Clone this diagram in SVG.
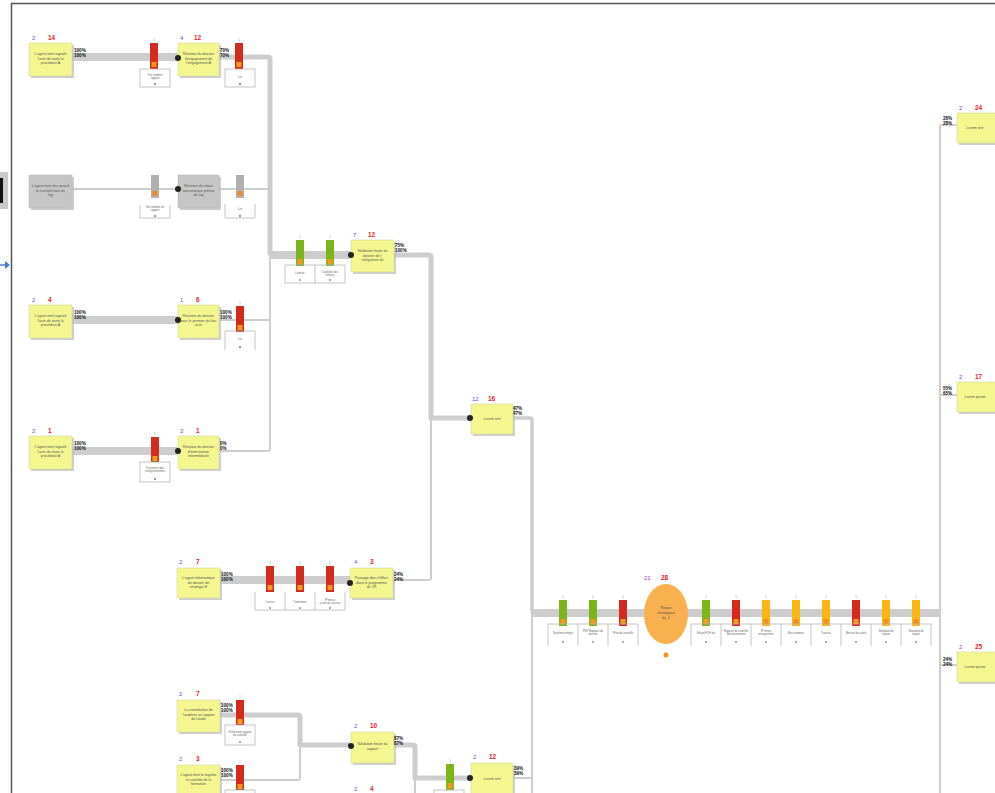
<svg xmlns="http://www.w3.org/2000/svg" width="995" height="793" viewBox="0 0 995 793">
<style>
.nd{fill:#f4f68f;stroke:#d6d6a0;stroke-width:0.6}
.nd-g{fill:#c6c6c6;stroke:#b8b8b8;stroke-width:0.6}
.sh{fill:#b9b9b9;opacity:0.7}
.nt{font-family:"Liberation Sans",Arial,sans-serif;font-size:3.6px;fill:#555;text-anchor:middle}
.np{font-family:"Liberation Sans",Arial,sans-serif;font-size:6px;fill:#8a3fd1}
.nr{font-family:"Liberation Sans",Arial,sans-serif;font-size:6.5px;fill:#e8202a;font-weight:bold}
.pc{font-family:"Liberation Sans",Arial,sans-serif;font-size:4.6px;fill:#111;font-weight:bold}
.bx{fill:#fff;stroke:#b5b5b5;stroke-width:0.8}
.bl{fill:none;stroke:#b5b5b5;stroke-width:0.8}
.bt{font-family:"Liberation Sans",Arial,sans-serif;font-size:2.8px;fill:#666;text-anchor:middle}
.c1{fill:none;stroke:#cdcdcd;stroke-width:8;stroke-linejoin:round}
.c2{fill:none;stroke:#cdcdcd;stroke-width:5;stroke-linejoin:round}
.c4{fill:none;stroke:#cdcdcd;stroke-width:3.5;stroke-linejoin:round}
.c3{fill:none;stroke:#cdcdcd;stroke-width:2;stroke-linejoin:round}
.dot{fill:#222}
.gn{font-family:"Liberation Sans",Arial,sans-serif;font-size:3.5px;fill:#999;text-anchor:middle}
</style>
<defs>
<g id="gR"><rect x="0" y="0" width="8" height="26" fill="#d42b1e"/><rect x="1.5" y="19" width="5" height="5" fill="#f49a20"/><text class="gn" x="4" y="-2">1</text></g>
<g id="gG"><rect x="0" y="0" width="8" height="26" fill="#7cb51b"/><rect x="1.5" y="19" width="5" height="5" fill="#f49a20"/><text class="gn" x="4" y="-2">1</text></g>
<g id="gO"><rect x="0" y="0" width="8" height="26" fill="#fdb515"/><rect x="1.5" y="19" width="5" height="5" fill="#f48a20"/><text class="gn" x="4" y="-2">1</text></g>
<g id="gY"><rect x="0" y="0" width="8" height="23" fill="#b0b0b0"/><rect x="1.5" y="16" width="5" height="5" fill="#f08a30"/></g>
</defs>
<rect width="995" height="793" fill="#fff"/>
<!-- frame -->
<path d="M11.5 793 V3.5 H995" fill="none" stroke="#555" stroke-width="1.5"/>
<rect x="0" y="172" width="8" height="37" fill="#c9c9c9"/>
<rect x="0" y="178" width="3" height="25" fill="#111"/>
<path d="M0 265 H6" stroke="#4a7cc7" stroke-width="1.5"/>
<path d="M5 261 L10 265 L5 269 Z" fill="#4a7cc7"/>

<g id="connectors">
<path class="c1" d="M72 57 H178"/>
<path class="c2" d="M218 57 H268 Q270 57 270 59 V255"/>
<path class="c3" d="M72 189 H270"/>
<path class="c1" d="M72 320 H178"/>
<path class="c3" d="M218 320 H270 M270 255 V449 Q270 451 268 451 H218"/>
<path class="c1" d="M72 451 H178"/>
<path class="c1" d="M270 255 H350"/>
<path class="c2" d="M393 255 H429 Q431 255 431 257 V418 H470"/>
<path class="c3" d="M393 580 H429 Q431 580 431 578 V418"/>
<path class="c1" d="M220 580 H350"/>
<path class="c4" d="M512 418 H530 Q532 418 532 420 V613"/>
<path class="c3" d="M532 613 V793"/>
<path class="c1" d="M532 613 H940"/>
<path class="c3" d="M940 793 V127 Q940 125 942 125 H957 M940 395 H957 M940 665 H957"/>
<path class="c2" d="M220 715 H298 Q300 715 300 717 V745 H350"/>
<path class="c3" d="M220 780 H298 Q300 780 300 778 V745"/>
<path class="c2" d="M393 745 H413 Q415 745 415 747 V778 H470"/>
<path class="c3" d="M415 778 V793 M512 778 H532"/>
</g>

<!-- gauges and boxes -->
<g id="gauges">
<use href="#gR" x="150" y="43"/><rect class="bx" x="140" y="69" width="30" height="18"/><text class="bt" x="155" y="76">Ton number</text><text class="bt" x="155" y="79">rapport</text><circle cx="155" cy="84" r="1.2" fill="#999"/>
<use href="#gR" x="235" y="43"/><rect class="bx" x="225" y="69" width="30" height="18"/><text class="bt" x="240" y="78">Lot</text><circle cx="240" cy="84" r="1.2" fill="#999"/>
<use href="#gY" x="151" y="175"/><path class="bl" d="M140 205 V218 H170 V205"/><text class="bt" x="155" y="208">Ton number de</text><text class="bt" x="155" y="211">rapport</text><circle cx="155" cy="216" r="1.2" fill="#999"/>
<use href="#gY" x="236" y="175"/><path class="bl" d="M225 204 V218 H255 V204"/><text class="bt" x="240" y="210">Lot</text><circle cx="240" cy="216" r="1.2" fill="#999"/>
<use href="#gR" x="236" y="306"/><path class="bl" d="M225 350 V331 H255 V350"/><text class="bt" x="240" y="340">Lot</text><circle cx="240" cy="347" r="1.2" fill="#999"/>
<use href="#gR" x="151" y="437"/><rect class="bx" x="140" y="462" width="30" height="20"/><text class="bt" x="155" y="469">Traitement des</text><text class="bt" x="155" y="472">enregistrements</text><circle cx="155" cy="479" r="1.2" fill="#999"/>
<use href="#gG" x="296" y="240"/><use href="#gG" x="326" y="240"/>
<path class="bl" d="M285 265 V283 H345 V265 H285 M315 265 V283"/><text class="bt" x="300" y="274">Lecture</text><text class="bt" x="330" y="273">Contrôle des</text><text class="bt" x="330" y="276">fichiers</text><circle cx="300" cy="280" r="1.1" fill="#999"/><circle cx="330" cy="280" r="1.1" fill="#999"/>
<use href="#gR" x="266" y="566"/><use href="#gR" x="296" y="566"/><use href="#gR" x="326" y="566"/>
<path class="bl" d="M255 592 V610 H345 V592 M285 592 V610 M315 592 V610"/><text class="bt" x="270" y="603">Lecture</text><text class="bt" x="300" y="603">Traitement</text><text class="bt" x="330" y="601">IP mises</text><text class="bt" x="330" y="604">à jour du serveur</text><circle cx="270" cy="608" r="1.1" fill="#999"/><circle cx="300" cy="608" r="1.1" fill="#999"/><circle cx="330" cy="608" r="1.1" fill="#999"/>
<use href="#gR" x="236" y="700"/><rect class="bx" x="225" y="725" width="30" height="20"/><text class="bt" x="240" y="733">Vérification rapport</text><text class="bt" x="240" y="736">de contrôle</text><circle cx="240" cy="742" r="1.1" fill="#999"/>
<use href="#gR" x="236" y="765"/><rect class="bx" x="225" y="790" width="30" height="10"/>
<use href="#gG" x="446" y="764"/><rect class="bx" x="434" y="790" width="30" height="10"/>
<!-- main line gauges -->
<use href="#gG" x="559" y="600"/><use href="#gG" x="589" y="600"/><use href="#gR" x="619" y="600"/>
<path class="bl" d="M548 624 H638 M548 624 V646 M578 624 V646 M608 624 V646 M638 624 V646"/>
<text class="bt" x="563" y="634">Système intégré</text><text class="bt" x="593" y="632">PDF Rapport de</text><text class="bt" x="593" y="635">dossier</text><text class="bt" x="623" y="634">Plan de contrôle</text>
<circle cx="563" cy="642" r="1.1" fill="#999"/><circle cx="593" cy="642" r="1.1" fill="#999"/><circle cx="623" cy="642" r="1.1" fill="#999"/>
<use href="#gG" x="702" y="600"/><use href="#gR" x="732" y="600"/><use href="#gO" x="762" y="600"/><use href="#gO" x="792" y="600"/><use href="#gO" x="822" y="600"/><use href="#gR" x="852" y="600"/><use href="#gO" x="882" y="600"/><use href="#gO" x="912" y="600"/>
<path class="bl" d="M691 624 H931 M691 624 V646 M721 624 V646 M751 624 V646 M781 624 V646 M811 624 V646 M841 624 V646 M871 624 V646 M901 624 V646 M931 624 V646"/>
<text class="bt" x="706" y="634">Extrait PDF du</text>
<text class="bt" x="736" y="632">Rapport de contrôle</text><text class="bt" x="736" y="635">fonctionnement</text>
<text class="bt" x="766" y="632">IP mises</text><text class="bt" x="766" y="635">enregistrées</text>
<text class="bt" x="796" y="634">Recrutement</text>
<text class="bt" x="826" y="634">Travaux</text>
<text class="bt" x="856" y="634">Mesure de stock</text>
<text class="bt" x="886" y="632">Standard de</text><text class="bt" x="886" y="635">région</text>
<text class="bt" x="916" y="632">Standard de</text><text class="bt" x="916" y="635">région</text>
<circle cx="706" cy="642" r="1.1" fill="#999"/><circle cx="736" cy="642" r="1.1" fill="#999"/><circle cx="766" cy="642" r="1.1" fill="#999"/><circle cx="796" cy="642" r="1.1" fill="#999"/><circle cx="826" cy="642" r="1.1" fill="#999"/><circle cx="856" cy="642" r="1.1" fill="#999"/><circle cx="886" cy="642" r="1.1" fill="#999"/><circle cx="916" cy="642" r="1.1" fill="#999"/>
</g>

<!-- nodes -->
<g id="n1"><rect class="sh" x="31" y="45" width="43" height="33"/><rect class="nd" x="29" y="43" width="43" height="33"/><text class="np" x="32" y="40">2</text><text class="nr" x="48" y="40">14</text>
<text class="nt" x="50.5" y="55">L'agent tient signalé</text><text class="nt" x="50.5" y="59.5">l'acte de toute la</text><text class="nt" x="50.5" y="64">procédure A</text><text class="pc" x="74" y="52">100%</text><text class="pc" x="74" y="57">100%</text></g>
<g id="n2"><rect class="sh" x="180" y="45" width="41" height="33"/><rect class="nd" x="178" y="43" width="41" height="33"/><circle class="dot" cx="178" cy="58" r="3"/><text class="np" x="180" y="40">4</text><text class="nr" x="194" y="40">12</text>
<text class="nt" x="198.5" y="55">Révision du dossier</text><text class="nt" x="198.5" y="59.5">d'engagement de</text><text class="nt" x="198.5" y="64">l'engagement A</text><text class="pc" x="220" y="52">70%</text><text class="pc" x="220" y="57">70%</text></g>
<g id="n3"><rect class="sh" x="31" y="177" width="43" height="33"/><rect class="nd-g" x="29" y="175" width="43" height="33"/>
<text class="nt" x="50.5" y="187">L'agent tient des quand</text><text class="nt" x="50.5" y="191.5">la transmission du</text><text class="nt" x="50.5" y="196">log</text></g>
<g id="n4"><rect class="sh" x="180" y="177" width="41" height="33"/><rect class="nd-g" x="178" y="175" width="41" height="33"/><circle class="dot" cx="178" cy="189" r="3"/>
<text class="nt" x="198.5" y="187">Révision du retour</text><text class="nt" x="198.5" y="191.5">transmission prévue</text><text class="nt" x="198.5" y="196">de log</text></g>
<g id="n5"><rect class="sh" x="31" y="307" width="43" height="33"/><rect class="nd" x="29" y="305" width="43" height="33"/><text class="np" x="32" y="302">2</text><text class="nr" x="48" y="302">4</text>
<text class="nt" x="50.5" y="317">L'agent tient signalé</text><text class="nt" x="50.5" y="321.5">l'acte de toute la</text><text class="nt" x="50.5" y="326">procédure A</text><text class="pc" x="74" y="314">100%</text><text class="pc" x="74" y="319">100%</text></g>
<g id="n6"><rect class="sh" x="180" y="307" width="41" height="33"/><rect class="nd" x="178" y="305" width="41" height="33"/><circle class="dot" cx="178" cy="320" r="3"/><text class="np" x="180" y="302">1</text><text class="nr" x="196" y="302">6</text>
<text class="nt" x="198.5" y="317">Révision du dossier</text><text class="nt" x="198.5" y="321.5">pour le premier du lieu</text><text class="nt" x="198.5" y="326">acte</text><text class="pc" x="220" y="314">100%</text><text class="pc" x="220" y="319">100%</text></g>
<g id="n7"><rect class="sh" x="31" y="438" width="43" height="33"/><rect class="nd" x="29" y="436" width="43" height="33"/><text class="np" x="32" y="433">2</text><text class="nr" x="48" y="433">1</text>
<text class="nt" x="50.5" y="448">L'agent tient signalé</text><text class="nt" x="50.5" y="452.5">l'acte de toute la</text><text class="nt" x="50.5" y="457">procédure A</text><text class="pc" x="74" y="445">100%</text><text class="pc" x="74" y="450">100%</text></g>
<g id="n8"><rect class="sh" x="180" y="438" width="41" height="33"/><rect class="nd" x="178" y="436" width="41" height="33"/><circle class="dot" cx="178" cy="451" r="3"/><text class="np" x="180" y="433">2</text><text class="nr" x="196" y="433">1</text>
<text class="nt" x="198.5" y="448">Révision du dossier</text><text class="nt" x="198.5" y="452.5">d'intervention</text><text class="nt" x="198.5" y="457">intermédiaire</text><text class="pc" x="220" y="445">0%</text><text class="pc" x="220" y="450">0%</text></g>
<g id="n9"><rect class="sh" x="353" y="242" width="43" height="32"/><rect class="nd" x="351" y="240" width="43" height="32"/><circle class="dot" cx="351" cy="255" r="3"/><text class="np" x="353" y="237">7</text><text class="nr" x="368" y="237">12</text>
<text class="nt" x="372.5" y="252">Validation finale du</text><text class="nt" x="372.5" y="256.5">dossier de l'</text><text class="nt" x="372.5" y="261">intégration du</text><text class="pc" x="395" y="247">75%</text><text class="pc" x="395" y="252">100%</text></g>
<g id="n10"><rect class="sh" x="473" y="406" width="42" height="30"/><rect class="nd" x="471" y="404" width="42" height="30"/><circle class="dot" cx="470" cy="418" r="3"/><text class="np" x="472" y="401">12</text><text class="nr" x="488" y="401">16</text>
<text class="nt" x="492" y="420">Lorem text</text><text class="pc" x="513" y="410">47%</text><text class="pc" x="513" y="415">47%</text></g>
<g id="n11"><rect class="sh" x="179" y="570" width="43" height="30"/><rect class="nd" x="177" y="568" width="43" height="30"/><text class="np" x="179" y="564">2</text><text class="nr" x="196" y="564">7</text>
<text class="nt" x="198.5" y="579">L'agent informatique</text><text class="nt" x="198.5" y="583.5">du dossier de</text><text class="nt" x="198.5" y="588">stratégie H</text><text class="pc" x="221" y="576">100%</text><text class="pc" x="221" y="581">100%</text></g>
<g id="n12"><rect class="sh" x="352" y="570" width="43" height="30"/><rect class="nd" x="350" y="568" width="43" height="30"/><circle class="dot" cx="350" cy="583" r="3"/><text class="np" x="354" y="564">4</text><text class="nr" x="370" y="564">3</text>
<text class="nt" x="371.5" y="579">Passage des chiffres</text><text class="nt" x="371.5" y="583.5">dans le programme</text><text class="nt" x="371.5" y="588">de 1R</text><text class="pc" x="394" y="576">24%</text><text class="pc" x="394" y="581">24%</text></g>
<g id="n13"><ellipse cx="666" cy="614" rx="22" ry="30" fill="#f9b04f"/><text class="np" x="644" y="580">21</text><text class="nr" x="661" y="580">28</text>
<text class="nt" x="666" y="609">Risque</text><text class="nt" x="666" y="614">stratégique</text><text class="nt" x="666" y="619">de_1</text><circle cx="666" cy="655" r="2.5" fill="#f7941d"/></g>
<g id="n14"><rect class="sh" x="959" y="115" width="40" height="30"/><rect class="nd" x="957" y="113" width="40" height="30"/><text class="np" x="959" y="110">2</text><text class="nr" x="975" y="110">24</text>
<text class="nt" x="975" y="129">Lorem text</text><text class="pc" x="943" y="120">28%</text><text class="pc" x="943" y="125">28%</text></g>
<g id="n15"><rect class="sh" x="959" y="384" width="40" height="30"/><rect class="nd" x="957" y="382" width="40" height="30"/><text class="np" x="959" y="379">2</text><text class="nr" x="975" y="379">17</text>
<text class="nt" x="975" y="398">Lorem ipsum</text><text class="pc" x="943" y="390">55%</text><text class="pc" x="943" y="395">65%</text></g>
<g id="n16"><rect class="sh" x="959" y="654" width="40" height="30"/><rect class="nd" x="957" y="652" width="40" height="30"/><text class="np" x="959" y="649">2</text><text class="nr" x="975" y="649">25</text>
<text class="nt" x="975" y="668">Lorem ipsum</text><text class="pc" x="943" y="661">24%</text><text class="pc" x="943" y="666">24%</text></g>
<g id="n17"><rect class="sh" x="179" y="702" width="43" height="32"/><rect class="nd" x="177" y="700" width="43" height="32"/><text class="np" x="179" y="696">2</text><text class="nr" x="196" y="696">7</text>
<text class="nt" x="198.5" y="711">La contribution de</text><text class="nt" x="198.5" y="715.5">l'auditeur au rapport</text><text class="nt" x="198.5" y="720">de l'audit</text><text class="pc" x="221" y="707">100%</text><text class="pc" x="221" y="712">100%</text></g>
<g id="n18"><rect class="sh" x="179" y="767" width="43" height="32"/><rect class="nd" x="177" y="765" width="43" height="32"/><text class="np" x="179" y="761">2</text><text class="nr" x="196" y="761">3</text>
<text class="nt" x="198.5" y="776">L'agent tient le registre</text><text class="nt" x="198.5" y="780.5">et contrôle de la</text><text class="nt" x="198.5" y="785">formation</text><text class="pc" x="221" y="772">100%</text><text class="pc" x="221" y="777">100%</text></g>
<g id="n19"><rect class="sh" x="353" y="734" width="43" height="31"/><rect class="nd" x="351" y="732" width="43" height="31"/><circle class="dot" cx="351" cy="746" r="3"/><text class="np" x="354" y="728">2</text><text class="nr" x="370" y="728">10</text>
<text class="nt" x="372.5" y="745">Validation finale du</text><text class="nt" x="372.5" y="749.5">rapport</text><text class="pc" x="394" y="740">87%</text><text class="pc" x="394" y="745">87%</text></g>
<g id="n20"><rect class="sh" x="473" y="765" width="42" height="31"/><rect class="nd" x="471" y="763" width="42" height="31"/><circle class="dot" cx="470" cy="778" r="3"/><text class="np" x="473" y="759">2</text><text class="nr" x="489" y="759">12</text>
<text class="nt" x="492" y="780">Lorem text</text><text class="pc" x="514" y="770">39%</text><text class="pc" x="514" y="775">39%</text></g>
<g id="n21"><text class="np" x="354" y="791">2</text><text class="nr" x="370" y="791">4</text></g>
</svg>
